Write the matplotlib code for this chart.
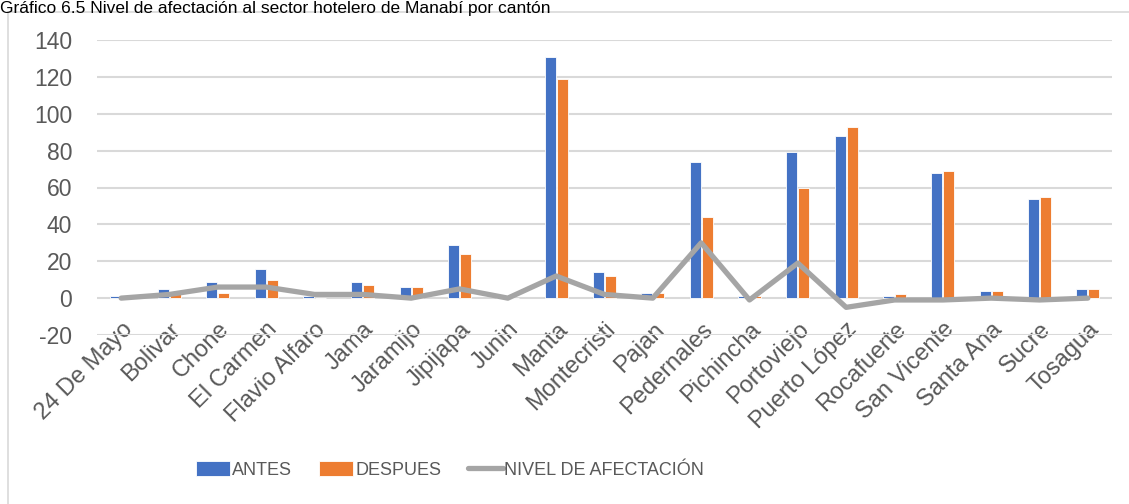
import numpy as np
import matplotlib
matplotlib.use("Agg")
import matplotlib.pyplot as plt
from matplotlib.patches import Rectangle

# data
cantones = ["24 De Mayo", "Bolivar", "Chone", "El Carmen", "Flavio Alfaro", "Jama",
            "Jaramijo", "Jipijapa", "Junin", "Manta", "Montecristi", "Pajan",
            "Pedernales", "Pichincha", "Portoviejo", "Puerto López", "Rocafuerte",
            "San Vicente", "Santa Ana", "Sucre", "Tosagua"]
antes = [1, 5, 9, 16, 1, 9, 6, 29, 0, 131, 14, 3, 74, 1, 79, 88, 1, 68, 4, 54, 5]
despues = [0, 2, 3, 10, 0, 7, 6, 24, 0, 119, 12, 3, 44, 1, 60, 93, 2, 69, 4, 55, 5]
nivel = [0, 2, 6, 6, 2, 2, 0, 5, 0, 12, 2, 0, 30, -1, 19, -5, -1, -1, 0, -1, 0]
yticks = [-20, 0, 20, 40, 60, 80, 100, 120, 140]

blue = "#4472C4"
orange = "#ED7D31"
gray = "#A5A5A5"
txt = "#595959"

plt.rcParams['font.family'] = ['Liberation Sans', 'DejaVu Sans']
plt.rcParams['axes.unicode_minus'] = False

fig = plt.figure(figsize=(11.29, 5.04), dpi=100)
ax = fig.add_axes([97 / 1129, 1 - 335 / 504, (1112 - 97) / 1129, (335 - 40) / 504])

# outer chart frame (partly cut off on the right and bottom)
fig.patches.append(Rectangle((8 / 1129, -0.05), 1.2, 1 - 12 / 504 + 0.05,
                             transform=fig.transFigure, fill=False,
                             edgecolor="#D9D9D9", linewidth=1.2))
fig.text(0.0, 1 - 13 / 504, "Gráfico 6.5 Nivel de afectación al sector hotelero de Manabí por cantón",
         fontsize=12.5, color="black", va="baseline", ha="left")

x = np.arange(len(cantones))
w = 0.23
ax.bar(x - 0.125, antes, w, color=blue, edgecolor="white", linewidth=0.6, label="ANTES", zorder=3)
ax.bar(x + 0.125, despues, w, color=orange, edgecolor="white", linewidth=0.6, label="DESPUES", zorder=3)
ax.plot(x, nivel, color=gray, linewidth=3.8, solid_joinstyle="round", solid_capstyle="round",
        label="NIVEL DE AFECTACIÓN", zorder=4)

ax.set_xlim(-0.5, len(cantones) - 0.5)
ax.set_ylim(-20, 140)
ax.set_yticks(yticks)
ax.yaxis.grid(True, color="#D9D9D9", linewidth=1.5, zorder=0)
ax.set_axisbelow(True)
for s in ax.spines.values():
    s.set_visible(False)
ax.tick_params(length=0)
ax.tick_params(axis="y", labelsize=16.5, labelcolor=txt, pad=18)
ax.set_xticks(x)
ax.set_xticklabels(cantones, rotation=45, ha="right", rotation_mode="anchor",
                   fontsize=17, color=txt)
ax.tick_params(axis="x", pad=-12)

h, l = ax.get_legend_handles_labels()
order = [l.index("ANTES"), l.index("DESPUES"), l.index("NIVEL DE AFECTACIÓN")]
leg = fig.legend([h[i] for i in order], [l[i] for i in order],
                 loc="center", bbox_to_anchor=(450 / 1129, 1 - 470 / 504), ncol=3, frameon=False,
                 fontsize=13, handlelength=1.9, handleheight=0.85, columnspacing=1.5,
                 handletextpad=0.1)
for t in leg.get_texts():
    t.set_color(txt)

fig.savefig("out.png", dpi=100)
